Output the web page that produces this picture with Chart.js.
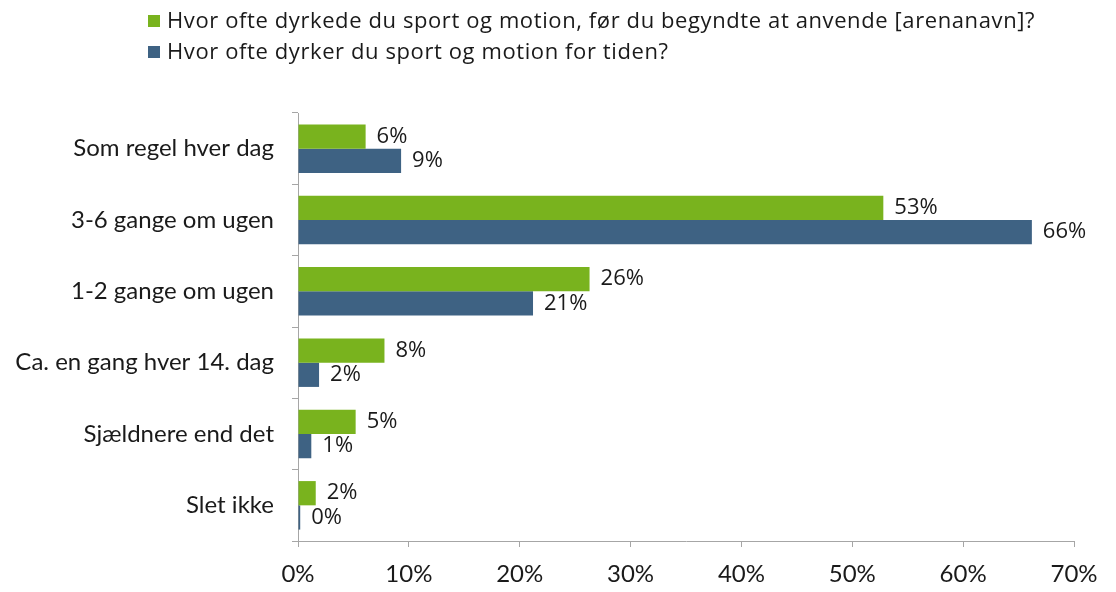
<!DOCTYPE html>
<html>
<head>
<meta charset="utf-8">
<script src="https://cdn.jsdelivr.net/npm/chart.js"></script>
<style>
  html, body { margin: 0; padding: 0; background: #ffffff; }
  #wrap { width: 1116px; height: 592px; position: relative; }
</style>
</head>
<body>
<div id="wrap"><canvas id="chart"></canvas></div>
<script>
// Categories (top to bottom)
const categories = [
  'Som regel hver dag',
  '3-6 gange om ugen',
  '1-2 gange om ugen',
  'Ca. en gang hver 14. dag',
  'Sjældnere end det',
  'Slet ikke'
];

// Series labels
const seriesLabels = [
  'Hvor ofte dyrkede du sport og motion, før du begyndte at anvende [arenanavn]?',
  'Hvor ofte dyrker du sport og motion for tiden?'
];

// Values in percent
const beforeValues = [6.1, 52.8, 26.3, 7.8, 5.2, 1.6];
const nowValues = [9.3, 66.2, 21.2, 1.9, 1.2, 0.2];

// Axis ticks
const xTicks = [0, 10, 20, 30, 40, 50, 60, 70];

const AXIS_FONT = 'Lato, sans-serif';
const LEGEND_FONT = '"Open Sans", sans-serif';
const GREEN = '#79b31e';
const BLUE = '#3e6283';
const AXIS = '#a6a6a6';
const TEXT = '#1a1a1a';

/**
 * Draws the legend in the top-left corner, stacked one entry per line
 */
const legendPlugin = {
  id: 'stackedLegend',
  afterDraw(chart) {
    const ctx = chart.ctx;
    ctx.save();
    ctx.font = '22px ' + LEGEND_FONT;
    ctx.letterSpacing = '0.6px';
    ctx.textBaseline = 'middle';
    chart.data.datasets.forEach((ds, i) => {
      const y = 21 + i * 31;
      ctx.fillStyle = ds.backgroundColor;
      ctx.fillRect(148, y - 6, 12, 12);
      ctx.fillStyle = TEXT;
      ctx.fillText(ds.label, 167, y + 1);
    });
    ctx.restore();
  }
};

/**
 * Writes the rounded value to the right of every bar
 */
const valueLabelPlugin = {
  id: 'valueLabels',
  afterDatasetsDraw(chart) {
    const ctx = chart.ctx;
    ctx.save();
    ctx.font = '22px ' + LEGEND_FONT;
    ctx.fillStyle = TEXT;
    ctx.textBaseline = 'middle';
    ctx.textAlign = 'left';
    chart.data.datasets.forEach((ds, i) => {
      const meta = chart.getDatasetMeta(i);
      meta.data.forEach((bar, j) => {
        const txt = Math.round(ds.data[j]) + '%';
        ctx.fillText(txt, bar.x + 11, bar.y);
      });
    });
    ctx.restore();
  }
};

new Chart(document.getElementById('chart'), {
  type: 'bar',
  data: {
    labels: categories,
    datasets: [
      {
        label: seriesLabels[0],
        data: beforeValues,
        backgroundColor: GREEN,
        categoryPercentage: 0.68,
        barPercentage: 1.0
      },
      {
        label: seriesLabels[1],
        data: nowValues,
        backgroundColor: BLUE,
        categoryPercentage: 0.68,
        barPercentage: 1.0
      }
    ]
  },
  options: {
    indexAxis: 'y',
    responsive: true,
    maintainAspectRatio: false,
    animation: false,
    layout: {
      padding: { top: 113, right: 42, bottom: 0, left: 0 }
    },
    plugins: {
      legend: { display: false },
      tooltip: { enabled: false }
    },
    scales: {
      x: {
        min: 0,
        max: 70,
        afterBuildTicks: (scale) => {
          scale.ticks = xTicks.map(v => ({ value: v }));
        },
        afterFit: (scale) => { scale.height = 51; },
        ticks: {
          color: TEXT,
          font: { family: AXIS_FONT, size: 24 },
          padding: 13,
          maxRotation: 0,
          callback: (v) => v + '%'
        },
        grid: {
          drawOnChartArea: false,
          drawTicks: true,
          tickLength: 6,
          color: AXIS
        },
        border: { color: AXIS, width: 1 }
      },
      y: {
        afterFit: (scale) => { scale.width = 298; },
        ticks: {
          color: TEXT,
          font: { family: AXIS_FONT, size: 24 },
          padding: 18
        },
        grid: {
          offset: true,
          drawOnChartArea: false,
          drawTicks: true,
          tickLength: 6,
          color: AXIS
        },
        border: { color: AXIS, width: 1 }
      }
    }
  },
  plugins: [legendPlugin, valueLabelPlugin]
});
</script>
</body>
</html>
